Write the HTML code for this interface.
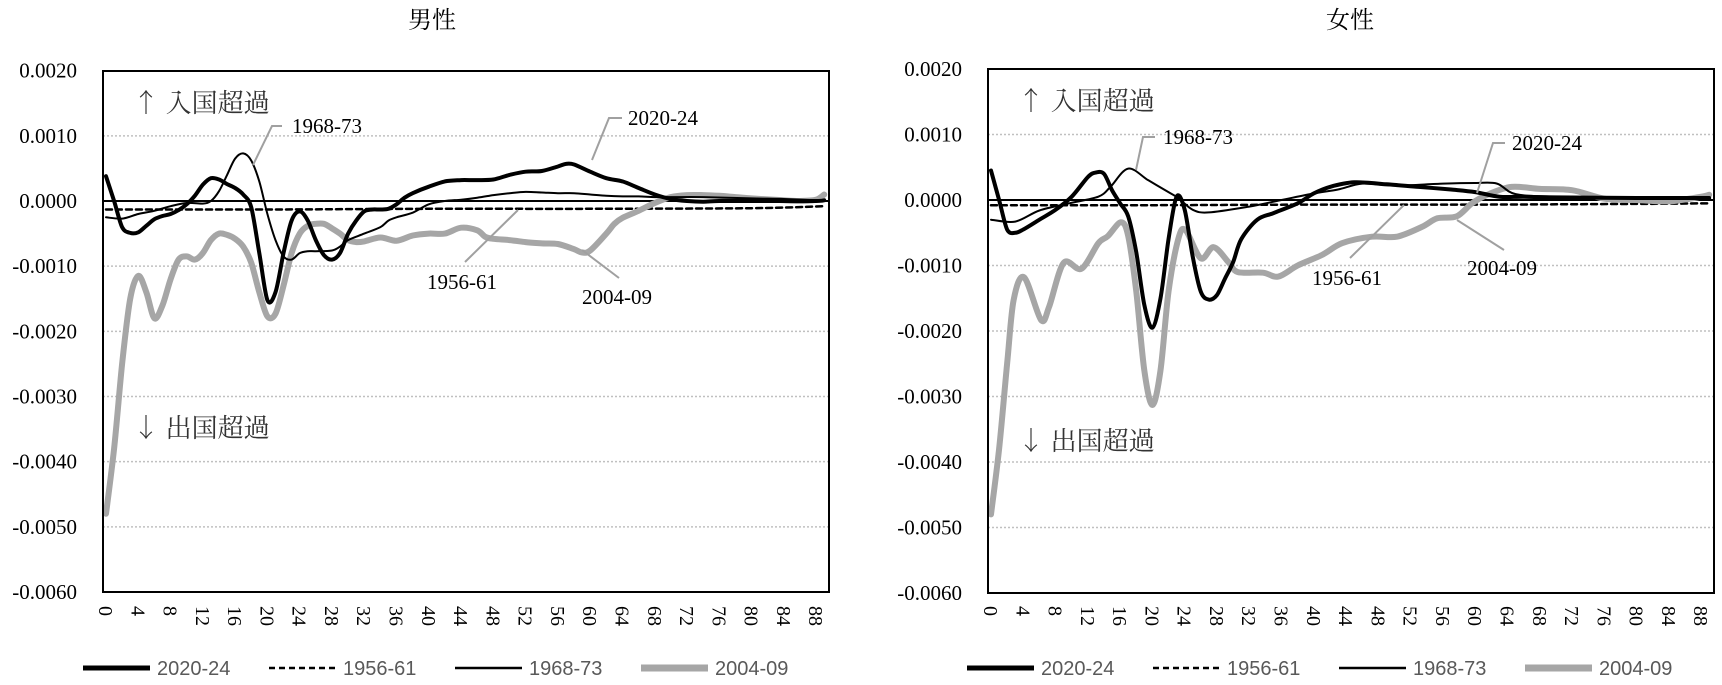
<!DOCTYPE html>
<html><head><meta charset="utf-8"><style>
html,body{margin:0;padding:0;background:#fff;}
svg{display:block;}
</style></head><body>
<svg id="s" width="1722" height="685" xmlns="http://www.w3.org/2000/svg"></svg>
<script>
const S=document.getElementById('s');
let out='';
function panel(ox,x0,top,zero,bot,title,tx,data,labels,downY,legX){
  const W=726, sc=(bot-zero)/60;
  const Y=v=>zero - v*sc;
  const X=a=>x0+3+8.07*a;
  out+=`<text x="${tx}" y="28" font-family="Liberation Serif, Noto Serif CJK SC, serif" font-size="24" text-anchor="middle">${title}</text>`;
  for(let k=-5;k<=1;k++){ if(k==0)continue; const y=zero-k*10*sc;
    out+=`<line x1="${x0}" x2="${x0+W}" y1="${y}" y2="${y}" stroke="#c0c0c0" stroke-width="1.5" stroke-dasharray="2 2"/>`;}
  const yl=['0.0020','0.0010','0.0000','-0.0010','-0.0020','-0.0030','-0.0040','-0.0050','-0.0060'];
  yl.forEach((t,i)=>{const y=zero-(2-i)*10*sc;
    out+=`<text x="${x0-26}" y="${y+7}" font-family="Liberation Serif, serif" font-size="21" text-anchor="end">${t}</text>`;});
  for(let a=0;a<=88;a+=4){const x=X(a);
    out+=`<text transform="translate(${x-7},606) rotate(90)" font-family="Liberation Serif, serif" font-size="20">${a}</text>`;}
  out+=`<line x1="${x0}" x2="${x0+W}" y1="${zero}" y2="${zero}" stroke="#000" stroke-width="2"/>`;
  data.forEach(d=>{
    let pts=d.p.map(q=>[X(q[0]),Y(q[1])]);
    out+=`<path d="${smooth(pts)}" fill="none" stroke="${d.c}" stroke-width="${d.w}" ${d.da?'stroke-dasharray="'+d.da+'"':''} stroke-linejoin="round" stroke-linecap="round"/>`;
  });
  out+=`<rect x="${x0}" y="${top}" width="${W}" height="${bot-top}" fill="none" stroke="#000" stroke-width="2"/>`;
  out+=`<text x="${x0+30}" y="${top+41}" font-family="Noto Serif CJK JP, serif" font-size="26" fill="#333">↑ 入国超過</text>`;
  out+=`<text x="${x0+30}" y="${downY}" font-family="Noto Serif CJK JP, serif" font-size="26" fill="#333">↓ 出国超過</text>`;
  labels.forEach(l=>{
    out+=`<polyline points="${l.line}" fill="none" stroke="#a0a0a0" stroke-width="2"/>`;
    out+=`<text x="${l.x}" y="${l.y+7}" font-family="Liberation Serif, serif" font-size="21">${l.t}</text>`;
  });
  const lg=[['2020-24','#000',5,''],['1956-61','#000',2.5,'6 4'],['1968-73','#000',2.5,''],['2004-09','#a6a6a6',7,'']];
  lg.forEach((g,i)=>{const lx=legX+i*186;
    out+=`<line x1="${lx}" x2="${lx+67}" y1="668" y2="668" stroke="${g[1]}" stroke-width="${g[2]}" ${g[3]?'stroke-dasharray="'+g[3]+'"':''}/>`;
    out+=`<text x="${lx+74}" y="675" font-family="Liberation Sans, sans-serif" font-size="20" fill="#595959">${g[0]}</text>`;});
}
function smooth(p){
  let d=`M${p[0][0].toFixed(1)},${p[0][1].toFixed(1)}`;
  for(let i=0;i<p.length-1;i++){
    const p0=p[i-1]||p[i],p1=p[i],p2=p[i+1],p3=p[i+2]||p2;
    const t=0.16;
    const c1=[p1[0]+(p2[0]-p0[0])*t,p1[1]+(p2[1]-p0[1])*t];
    const c2=[p2[0]-(p3[0]-p1[0])*t,p2[1]-(p3[1]-p1[1])*t];
    d+=` C${c1[0].toFixed(1)},${c1[1].toFixed(1)} ${c2[0].toFixed(1)},${c2[1].toFixed(1)} ${p2[0].toFixed(1)},${p2[1].toFixed(1)}`;
  }
  return d;
}
const P=s=>s.trim().split(/\s+/).map(q=>q.split(':').map(Number));
const m2020=P(`0:3.8 1:0 2:-4 3:-4.9 4:-4.8 5:-3.8 6:-2.8 7:-2.3 8:-2 9:-1.4 10:-0.5 11:0.8 12:2.5 13:3.5 14:3.3 15:2.6 16:2 17:1 18:-1 19:-8 20:-15.2 21:-14 22:-8 23:-3 24:-1.6 25:-3 26:-6 27:-8.3 28:-9 29:-8 30:-5 31:-3 32:-1.6 33:-1.3 34:-1.3 35:-1.2 36:-0.5 37:0.5 38:1.2 40:2.2 42:3 44:3.2 46:3.2 48:3.3 50:4 52:4.5 54:4.6 56:5.3 57:5.7 58:5.6 60:4.5 62:3.5 64:3 66:2 68:1 70:0.3 72:0 74:-0.1 76:0 80:0 84:0 88:0 89:0.1`);
const m1968=P(`0:-2.5 2:-2.7 4:-2 6:-1.5 8:-0.8 10:-0.3 12:-0.4 13:0 14:1.5 15:4 16:6.5 17:7.3 18:6.2 19:3 20:-2 21:-6 22:-8.5 23:-9 24:-8 25:-7.7 26:-7.7 28:-7.6 29:-7 30:-6 32:-5 34:-4 35:-3 36:-2.5 38:-1.8 40:-0.5 42:0 44:0.2 46:0.5 48:0.9 50:1.2 52:1.4 54:1.3 56:1.2 58:1.2 60:1 62:0.8 64:0.7 66:0.7 68:0.6 70:0.6 74:0.6 80:0.4 84:0.3 88:0.1 89:0.1`);
const m1956=P(`0:-1.3 20:-1.3 40:-1.2 60:-1.2 80:-1.1 89:-0.8`);
const m2004=P(`0:-48 1:-38 2:-25 3:-15 4:-11.5 5:-14 6:-18 7:-16 8:-12 9:-9 10:-8.5 11:-9 12:-8 13:-6 14:-5 15:-5.2 16:-5.8 17:-7 18:-9.5 19:-14 20:-17.7 21:-17.3 22:-13 23:-8 24:-5 25:-3.8 26:-3.5 27:-3.5 28:-4.2 29:-5 30:-6 31:-6.3 32:-6.2 34:-5.6 36:-6.1 38:-5.3 40:-5 42:-5 44:-4.1 46:-4.5 47:-5.5 48:-5.8 50:-6 52:-6.3 54:-6.5 56:-6.6 58:-7.4 59:-7.9 60:-7.6 62:-5 63:-3.5 64:-2.6 66:-1.5 68:-0.3 70:0.6 72:0.9 74:0.9 76:0.8 78:0.6 80:0.4 84:0.1 86:0 88:0.2 89:1`);
const f2020=P(`0:4.5 1:0 2:-4.5 3:-5 4:-4.5 6:-3 8:-1.5 10:0.5 12:3.5 13:4.2 14:4 15:1.5 16:-0.5 17:-2.5 18:-8 19:-16 20:-19.5 21:-15 22:-6 23:0.5 24:-1.5 25:-8.7 26:-14 27:-15.2 28:-14.5 29:-12 30:-9.5 31:-6 33:-3 35:-2 38:-0.5 40:1 42:2 45:2.7 49:2.4 53:2 57:1.6 60:1.2 63:0.5 66:0.5 70:0.4 80:0.3 89:0.3`);
const f1968=P(`0:-3 3:-3.3 6:-1.6 9.7:-0.5 13.3:0.5 14.8:2 17:4.8 19.5:3 22:1.2 23.2:0.3 25:-1.5 27:-1.9 32:-1 36:0 40:1 43:1.6 46:2.5 50:2.2 56:2.5 60:2.6 62.7:2.5 65:0.9 70:0.5 80:0.3 89:0.3`);
const f1956=P(`0:-0.8 20:-0.8 40:-0.7 60:-0.7 80:-0.6 89:-0.5`);
const f2004=P(`0:-48 1:-38 2:-25 2.8:-15.3 4.1:-11.8 6.2:-18.3 7.2:-16.3 9:-9.6 11.2:-10.5 13.3:-6.6 14.5:-5.5 16.1:-3.4 17:-5.5 18:-14 19:-26 20:-31.3 21:-26 22:-14 23.2:-6 24.1:-4.6 26:-8.9 27.6:-7.2 29.5:-9.6 30.6:-11 33.7:-11.1 35.6:-11.7 38:-10 41:-8.4 43.5:-6.6 47.2:-5.6 50.3:-5.6 53.4:-4.1 55.3:-2.8 57.7:-2.5 59.6:-0.5 61.5:0.8 64.5:2 68:1.7 72:1.5 76:0.2 80:0 84:-0.2 88:0.5 89:0.8`);
const ser=(a,b,c,d)=>[
 {p:b,c:'#000',w:2.5,da:'6 4'},
 {p:d,c:'#a6a6a6',w:6},
 {p:c,c:'#000',w:2},
 {p:a,c:'#000',w:4}];
panel(0,103,71,201,592,'男性',432,ser(m2020,m1956,m1968,m2004),[
 {t:'1968-73',x:292,y:126,line:'282,126 272,126 253,165'},
 {t:'1956-61',x:427,y:282,line:'465,262 518,210'},
 {t:'2020-24',x:628,y:118,line:'622,118 609,118 592,160'},
 {t:'2004-09',x:582,y:297,line:'619,278 582,250'}
],437,83);
panel(885,988,69,200,593,'女性',1350,ser(f2020,f1956,f1968,f2004),[
 {t:'1968-73',x:1163,y:137,line:'1155,137 1143,137 1136,170'},
 {t:'2020-24',x:1512,y:143,line:'1505,143 1493,143 1477,193'},
 {t:'1956-61',x:1312,y:278,line:'1350,258 1404,205'},
 {t:'2004-09',x:1467,y:268,line:'1504,250 1457,220'}
],450,967);
S.innerHTML=out;
</script>
</body></html>
